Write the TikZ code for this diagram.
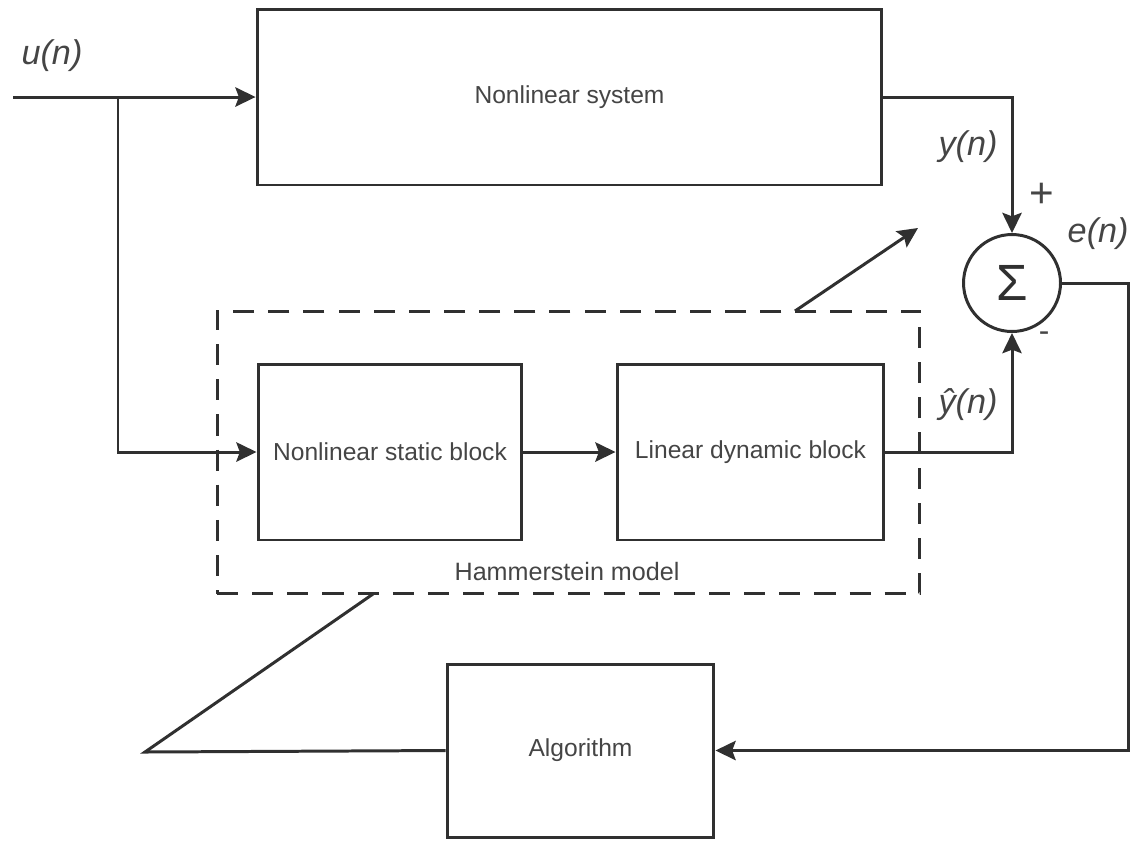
\documentclass[tikz,border=0pt]{standalone}
\usepackage{fontspec}
\setmainfont{Liberation Sans}
\usetikzlibrary{arrows.meta}
\definecolor{ink}{HTML}{303030}
\definecolor{txt}{HTML}{454545}
\tikzset{
  wire/.style={draw=ink, line width=1.7pt},
  arr/.style={wire, -{Stealth[length=11.5pt,width=11pt,inset=2pt]}},
  block/.style={draw=ink, line width=1.7pt, rectangle, inner sep=0pt,
    text=txt, font=\fontsize{14}{16}\selectfont},
  sig/.style={text=txt, font=\fontsize{19.5}{21}\selectfont\itshape, inner sep=0pt},
  sign/.style={text=txt, inner sep=0pt},
}
\begin{document}
\begin{tikzpicture}[x=0.02cm, y=-0.02cm]
\useasboundingbox (0,0) rectangle (1131,840);

% main blocks
\node[block, minimum width=12.5cm, minimum height=3.52cm] (ns) at (569.5,97) {Nonlinear system};
\node[block, minimum width=5.28cm, minimum height=3.52cm] (nsb) at (390,452) {Nonlinear static block};
\node[block, minimum width=5.34cm, minimum height=3.52cm] (ldb) at (750.5,452) {Linear dynamic block};
\node[block, minimum width=5.34cm, minimum height=3.46cm] (alg) at (580.5,750.5) {Algorithm};

% Hammerstein model frame
\node[draw=ink, line width=1.7pt, dash pattern=on 12pt off 8pt, rectangle,
      minimum width=14.06cm, minimum height=5.66cm, inner sep=0pt] (hm) at (568.5,452.5) {};
\node[text=txt, font=\fontsize{14.3}{16}\selectfont] (hmlabel) at (567,572) {Hammerstein model};

% summing junction
\node[draw=ink, line width=1.7pt, circle, minimum size=1.94cm, inner sep=0pt,
      text=ink, font=\fontsize{29}{30}\selectfont] (sum) at (1012,283) {Σ};

% auxiliary points
\coordinate (uin) at (13,97);
\coordinate (split) at (118,97);
\coordinate (eturn) at (1128,283);
\coordinate (tail) at (145,752);
\coordinate (hmfoot) at (373,594);
\coordinate (hmtop) at (795,311);
\coordinate (tune) at (918,228);

% signal flow
\draw[arr] (uin) -- (ns.west);
\draw[arr] (split) |- (nsb.west);
\draw[arr] (nsb.east) -- (ldb.west);
\draw[arr] (ns.east) -| (sum.north);
\draw[arr] (ldb.east) -| (sum.south);
\draw[arr] (sum.east) -- (eturn) |- (alg.east);

% adaptation path
\draw[wire, line join=miter] (alg.west) -- (tail) -- (hmfoot);
\draw[arr] (hmtop) -- (tune);

% signal labels
\node[sig] (lu) at (52,56) {u(n)};
\node[sig] (ly) at (968,147) {y(n)};
\node[sig] (lyh) at (968,405) {ŷ(n)};
\node[sig, anchor=east] (le) at (1129,234) {e(n)};
\node[sign, font=\fontsize{24}{24}\selectfont] (lplus) at (1042,195) {+};
\node[sign, font=\fontsize{18}{20}\selectfont] (lminus) at (1044,337) {-};
\end{tikzpicture}
\end{document}
